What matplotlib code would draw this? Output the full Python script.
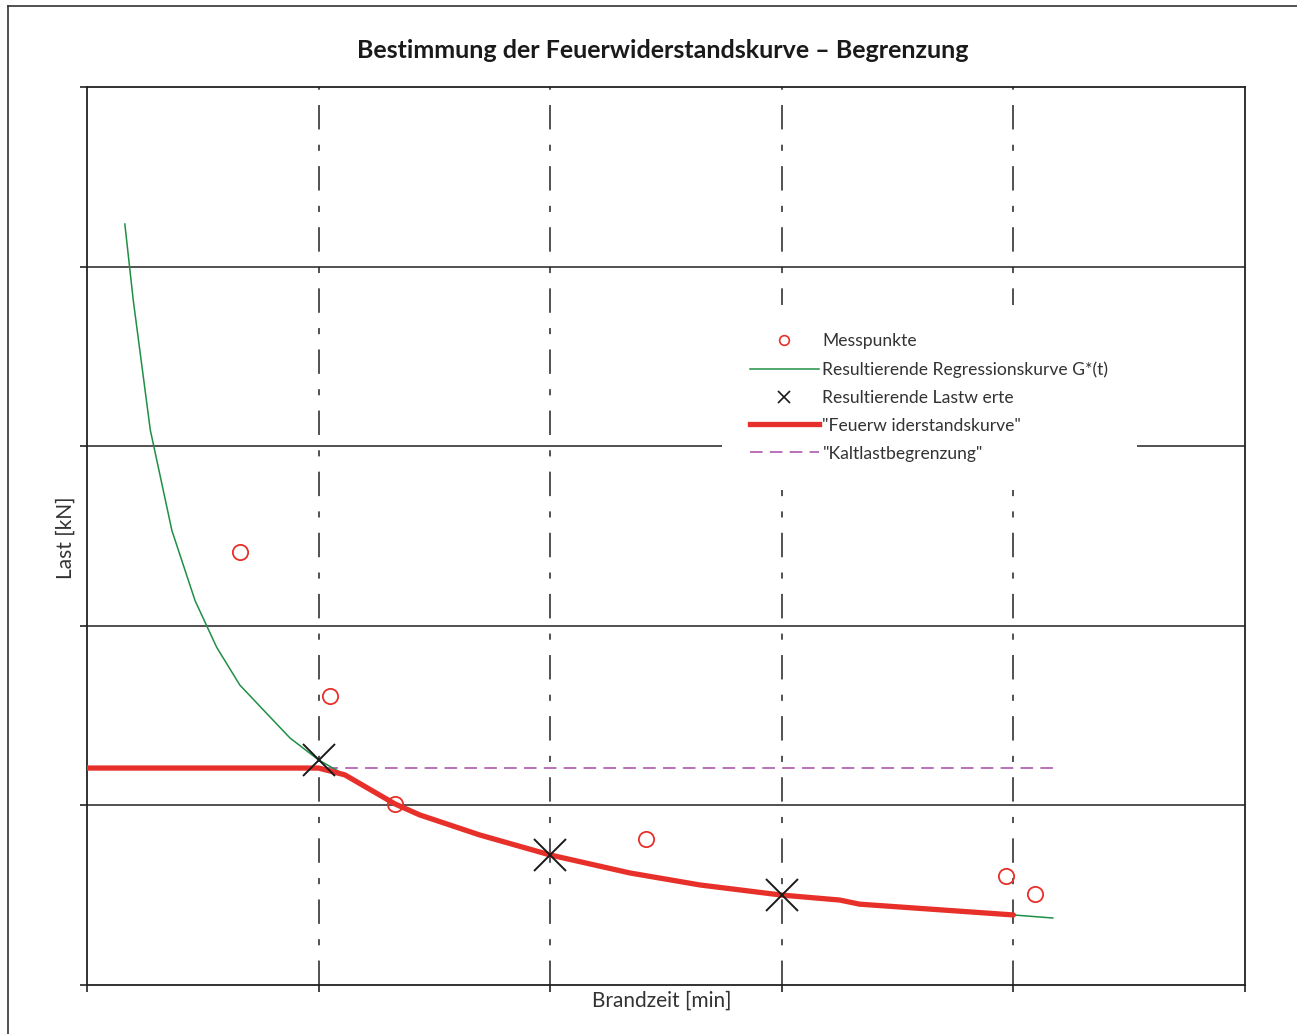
import matplotlib
matplotlib.use("Agg")
import matplotlib.pyplot as plt
from matplotlib.lines import Line2D

# measured loads (circles)
mess_t = [19.8, 31.5, 39.9, 72.4, 119.0, 122.8]
mess_last = [241.1, 160.9, 100.8, 81.3, 60.7, 50.7]

# regression curve G*(t)
reg_t = [4.9, 6.0, 8.2, 11.0, 14.0, 16.8, 19.8, 23.1, 26.3, 30.0, 33.4, 39.9,
         43.1, 50.9, 60.0, 70.3, 79.4, 89.9, 97.5, 100.1, 120.0, 125.1]
reg_last = [423.7, 381.0, 309.0, 253.0, 214.0, 188.0, 167.0, 152.0, 137.5, 125.3,
            117.0, 100.8, 94.7, 83.5, 72.4, 62.4, 55.7, 50.1, 47.3, 45.0, 39.0, 37.3]

# resulting load values at 30 / 60 / 90 min
last_t = [30, 60, 90]
last_werte = [125.3, 72.4, 50.1]

# fire resistance curve (capped by cold load)
fw_t = [0.0, 30.0, 33.4, 39.9, 43.1, 50.9, 60.0, 70.3, 79.4, 89.9, 97.5, 100.1, 120.0]
fw_last = [120.8, 120.8, 117.0, 100.8, 94.7, 83.5, 72.4, 62.4, 55.7, 50.1, 47.3, 45.0, 39.0]

kalt_t = [0.0, 125.1]
kalt_last = [120.8, 120.8]

x_ticks = [0, 30, 60, 90, 120, 150]
y_ticks = [0, 100, 200, 300, 400, 500]

RED = "#e8302a"
GREEN = "#1f8f45"
PURPLE = "#b466b4"
TXT = "#333333"
FONT = ["Lato", "DejaVu Sans"]

fig = plt.figure(figsize=(12.97, 10.34), dpi=100)
ax = fig.add_axes([87 / 1297, 1 - 985 / 1034, 1158 / 1297, 898 / 1034])

ax.set_xlim(0, 150)
ax.set_ylim(0, 500)
ax.set_xticks(x_ticks)
ax.set_yticks(y_ticks)
ax.set_xticklabels([])
ax.set_yticklabels([])
ax.tick_params(direction="out", length=5, width=1.2, color="#222222")
for sp in ax.spines.values():
    sp.set_linewidth(1.3)
    sp.set_color("#222222")

for y in y_ticks[1:-1]:
    ax.axhline(y, color="#222222", lw=1.1, zorder=1)
for x in x_ticks[1:-1]:
    ax.axvline(x, color="#222222", lw=1.1, dashes=(16, 10, 4, 10), zorder=1)

ax.plot(kalt_t, kalt_last, color=PURPLE, lw=1.3, dashes=(7, 4), zorder=3)
ax.plot(reg_t, reg_last, color=GREEN, lw=1.1, zorder=4)
ax.plot(fw_t, fw_last, color=RED, lw=3.8, solid_capstyle="round", zorder=5)
ax.plot(last_t, last_werte, ls="none", marker="x", ms=23, mew=1.4, color="#1a1a1a", zorder=6)
ax.plot(mess_t, mess_last, ls="none", marker="o", ms=11, mfc="none", mew=1.3, mec=RED, zorder=6)

handles = [
    Line2D([], [], ls="none", marker="o", ms=7, mfc="none", mew=1.2, mec=RED),
    Line2D([], [], color=GREEN, lw=1.1),
    Line2D([], [], ls="none", marker="x", ms=8, mew=1.2, color="#1a1a1a"),
    Line2D([], [], color=RED, lw=3.8),
    Line2D([], [], color=PURPLE, lw=1.3, dashes=(7, 4)),
]
labels = ["Messpunkte", "Resultierende Regressionskurve G*(t)", "Resultierende Lastw erte",
          "\"Feuerw iderstandskurve\"", "\"Kaltlastbegrenzung\""]
leg = ax.legend(handles, labels, loc="upper left",
                bbox_to_anchor=(722 / 1297, 1 - 305 / 1034), bbox_transform=fig.transFigure,
                frameon=True, fancybox=False, framealpha=1, edgecolor="none",
                facecolor="white", borderpad=1.62, borderaxespad=0,
                handlelength=3.9, handletextpad=0.22, labelspacing=0.68,
                prop={"family": FONT, "size": 12.6})
leg.set_zorder(10)
for t in leg.get_texts():
    t.set_color(TXT)

fig.text(663 / 1297, 1 - 50 / 1034, "Bestimmung der Feuerwiderstandskurve – Begrenzung",
         ha="center", va="center", fontsize=18, fontweight="bold",
         family=FONT, color="#1a1a1a")
fig.text(662 / 1297, 1 - 1001 / 1034, "Brandzeit [min]", ha="center", va="center",
         fontsize=15, family=FONT, color=TXT)
fig.text(66 / 1297, 1 - 538 / 1034, "Last [kN]", ha="center", va="center", rotation=90,
         fontsize=15, family=FONT, color=TXT)

# page frame (left and top edges)
fig.add_artist(Line2D([7.5 / 1297, 7.5 / 1297], [0, 1 - 6 / 1034], transform=fig.transFigure,
                      color="#333333", lw=1.2))
fig.add_artist(Line2D([7.5 / 1297, 1], [1 - 6 / 1034, 1 - 6 / 1034], transform=fig.transFigure,
                      color="#333333", lw=1.2))

fig.savefig("out.png", dpi=100)
